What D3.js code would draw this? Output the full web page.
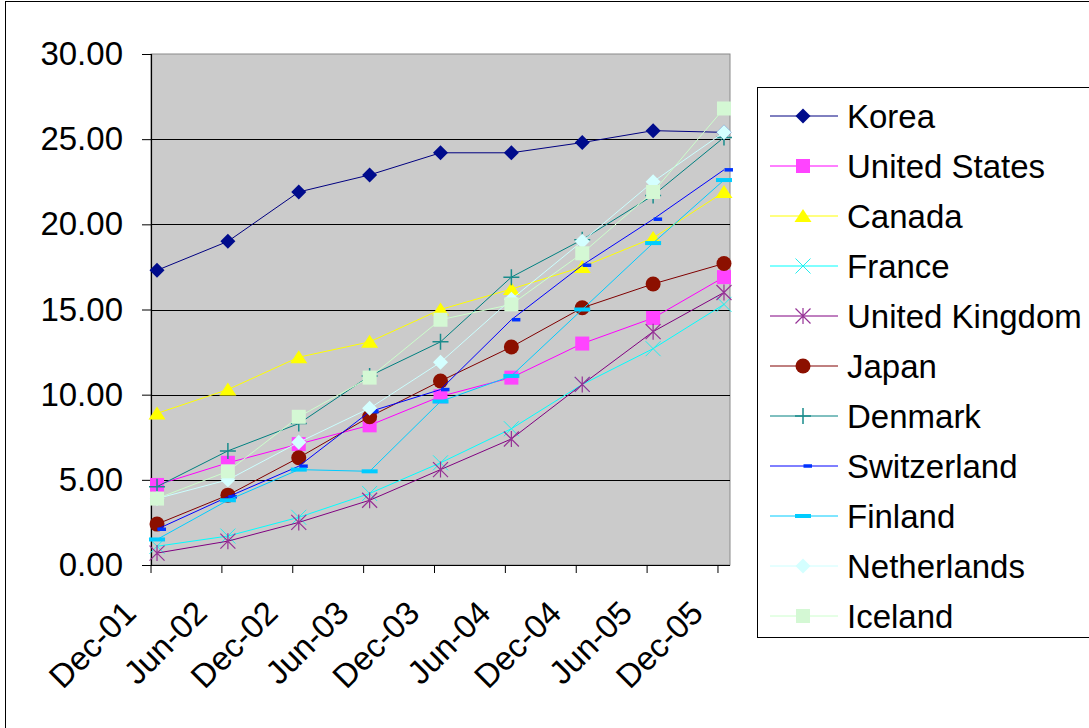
<!DOCTYPE html>
<html>
<head>
<meta charset="utf-8">
<script src="https://cdn.jsdelivr.net/npm/d3@7/dist/d3.min.js"></script>
<style>
  html, body { margin: 0; padding: 0; background: #fff; }
  svg { display: block; font-family: "Liberation Sans", Arial, sans-serif; }
</style>
</head>
<body>
<svg id="chart" width="1089" height="728"></svg>
<script>
// Periods on the category axis
const periods = ["Dec-01", "Jun-02", "Dec-02", "Jun-03", "Dec-03", "Jun-04", "Dec-04", "Jun-05", "Dec-05"];

// Value-axis ticks
const yTicks = [0, 5, 10, 15, 20, 25, 30];

// Series values, one array per country
const korea         = [17.3, 19.0, 21.9, 22.9, 24.2, 24.2, 24.8, 25.5, 25.4];
const unitedStates  = [4.7, 6.0, 7.1, 8.2, 9.9, 11.0, 13.0, 14.5, 16.9];
const canada        = [8.9, 10.3, 12.2, 13.1, 15.0, 16.2, 17.5, 19.2, 21.9];
const france        = [1.1, 1.7, 2.8, 4.2, 6.0, 8.0, 10.6, 12.7, 15.3];
const unitedKingdom = [0.7, 1.4, 2.5, 3.8, 5.6, 7.4, 10.6, 13.7, 16.0];
const japan         = [2.4, 4.1, 6.3, 8.7, 10.8, 12.8, 15.1, 16.5, 17.7];
const denmark       = [4.6, 6.7, 8.3, 11.1, 13.1, 16.9, 19.1, 21.7, 25.1];
const switzerland   = [2.1, 4.0, 5.8, 9.0, 10.3, 14.4, 17.6, 20.3, 23.2];
const finland       = [1.5, 3.8, 5.6, 5.5, 9.6, 11.1, 15.0, 18.9, 22.6];
const netherlands   = [3.9, 5.0, 7.2, 9.2, 11.9, 15.6, 19.0, 22.5, 25.4];
const iceland       = [3.9, 5.5, 8.7, 11.0, 14.4, 15.3, 18.3, 21.9, 26.8];

const countries = ["Korea", "United States", "Canada", "France", "United Kingdom", "Japan",
                   "Denmark", "Switzerland", "Finland", "Netherlands", "Iceland"];
const seriesValues = [korea, unitedStates, canada, france, unitedKingdom, japan,
                      denmark, switzerland, finland, netherlands, iceland];

// Styling per series: line colour, marker colour and marker shape
const lineColors   = ["#000080", "#ff00ff", "#ffff00", "#00ffff", "#800080", "#800000",
                      "#008080", "#0000ff", "#00ccff", "#ccffff", "#ccffcc"];
const markerColors = ["#000c8c", "#ff44ff", "#ffff00", "#22eeee", "#963296", "#8c1000",
                      "#1a8c8c", "#0033ff", "#00ccff", "#d4ffff", "#d4f8d4"];
const markerShapes = ["diamond", "square", "triangle", "cross", "star", "circle",
                      "plus", "shortdash", "longdash", "diamond", "square"];

const svg = d3.select("#chart");
const W = 1089, H = 728;

// Outer chart frame
svg.append("rect")
  .attr("x", 5.5).attr("y", 1.5)
  .attr("width", W + 10).attr("height", H + 10)
  .attr("fill", "#fff").attr("stroke", "#000").attr("stroke-width", 1);

// Plot area
const plotL = 151, plotR = 730, plotT = 54, plotB = 565;

const x = d3.scalePoint().domain(periods).range([plotL, plotR]).padding(0.085);
const y = d3.scaleLinear().domain([0, 30]).range([plotB, plotT]);

svg.append("rect")
  .attr("x", plotL).attr("y", plotT)
  .attr("width", plotR - plotL).attr("height", plotB - plotT)
  .attr("fill", "#cbcbcb").attr("stroke", "#8a8a8a").attr("stroke-width", 1);

// Horizontal gridlines
svg.append("g")
  .selectAll("line")
  .data(yTicks.filter(v => v > 0 && v < 30))
  .join("line")
  .attr("x1", plotL).attr("x2", plotR)
  .attr("y1", d => Math.round(y(d)) + 0.5).attr("y2", d => Math.round(y(d)) + 0.5)
  .attr("stroke", "#000").attr("stroke-width", 1.2);

// Value axis
const yAxis = d3.axisLeft(y)
  .tickValues(yTicks)
  .tickFormat(d3.format(".2f"))
  .tickSize(9)
  .tickPadding(19);

const gy = svg.append("g")
  .attr("transform", `translate(${plotL},0)`)
  .call(yAxis);
gy.select(".domain").attr("stroke", "#000").attr("stroke-width", 1.2);
gy.selectAll(".tick line").attr("stroke", "#000");
gy.selectAll(".tick text")
  .attr("font-size", 33)
  .attr("font-family", "'Liberation Sans', Arial, sans-serif")
  .attr("fill", "#000");

// Category axis: baseline, tick marks on category boundaries, rotated labels
const tickShift = -6;
svg.append("line")
  .attr("x1", plotL).attr("x2", plotR)
  .attr("y1", plotB + 0.5).attr("y2", plotB + 0.5)
  .attr("stroke", "#000").attr("stroke-width", 1.2);

svg.append("g")
  .selectAll("line")
  .data(periods)
  .join("line")
  .attr("x1", d => x(d) + tickShift).attr("x2", d => x(d) + tickShift)
  .attr("y1", plotB).attr("y2", plotB + 8)
  .attr("stroke", "#000");

svg.append("g")
  .selectAll("text")
  .data(periods)
  .join("text")
  .attr("transform", d => `translate(${x(d) - 19},${615}) rotate(-45)`)
  .attr("text-anchor", "end")
  .attr("font-size", 33)
  .attr("fill", "#000")
  .text(d => d);

// Marker drawing
function drawMarker(g, shape, color) {
  switch (shape) {
    case "diamond":
      g.append("path").attr("d", "M0,-7.5L7.5,0L0,7.5L-7.5,0Z").attr("fill", color);
      break;
    case "square":
      g.append("rect").attr("x", -7).attr("y", -7).attr("width", 14).attr("height", 14).attr("fill", color);
      break;
    case "triangle":
      g.append("path").attr("d", "M0,-7L8.5,6L-8.5,6Z").attr("fill", color);
      break;
    case "cross":
      g.append("path").attr("d", "M-7.5,-7.5L7.5,7.5M-7.5,7.5L7.5,-7.5")
        .attr("stroke", color).attr("stroke-width", 1).attr("fill", "none");
      break;
    case "star":
      g.append("path").attr("d", "M-7.5,-7.5L7.5,7.5M-7.5,7.5L7.5,-7.5M0,-8L0,8")
        .attr("stroke", color).attr("stroke-width", 1.2).attr("fill", "none");
      break;
    case "circle":
      g.append("circle").attr("r", 7.5).attr("fill", color);
      break;
    case "plus":
      g.append("path").attr("d", "M-8,0L8,0M0,-8L0,8")
        .attr("stroke", color).attr("stroke-width", 1.5).attr("fill", "none");
      break;
    case "shortdash":
      g.append("rect").attr("x", 0.5).attr("y", -1.75).attr("width", 8.5).attr("height", 3.5).attr("fill", color);
      break;
    case "longdash":
      g.append("rect").attr("x", -8).attr("y", -2).attr("width", 16).attr("height", 4).attr("fill", color);
      break;
  }
}

// Series: line then markers, drawn in order
const line = d3.line()
  .x((d, i) => x(periods[i]))
  .y(d => y(d));

seriesValues.forEach((vals, s) => {
  const g = svg.append("g").attr("class", "series");
  g.append("path")
    .datum(vals)
    .attr("d", line)
    .attr("fill", "none")
    .attr("stroke", lineColors[s])
    .attr("stroke-width", 1);
  g.selectAll("g.marker")
    .data(vals)
    .join("g")
    .attr("class", "marker")
    .attr("transform", (d, i) => `translate(${x(periods[i])},${y(d)})`)
    .each(function () { drawMarker(d3.select(this), markerShapes[s], markerColors[s]); });
});

// Legend
const legend = svg.append("g");
legend.append("rect")
  .attr("x", 757.5).attr("y", 87.5)
  .attr("width", 400).attr("height", 550)
  .attr("fill", "#fff").attr("stroke", "#000").attr("stroke-width", 1);

const entries = legend.selectAll("g.entry")
  .data(countries)
  .join("g")
  .attr("class", "entry")
  .attr("transform", (d, i) => `translate(0,${116 + i * 50})`);

entries.append("line")
  .attr("x1", 770).attr("x2", 838)
  .attr("y1", 0).attr("y2", 0)
  .attr("stroke", (d, i) => lineColors[i])
  .attr("stroke-width", 1);

entries.append("g")
  .attr("transform", "translate(803,0)")
  .each(function (d, i) { drawMarker(d3.select(this), markerShapes[i], markerColors[i]); });

entries.append("text")
  .attr("x", 847).attr("y", 0).attr("dy", "0.35em")
  .attr("font-size", 33)
  .attr("fill", "#000")
  .text(d => d);
</script>
</body>
</html>
